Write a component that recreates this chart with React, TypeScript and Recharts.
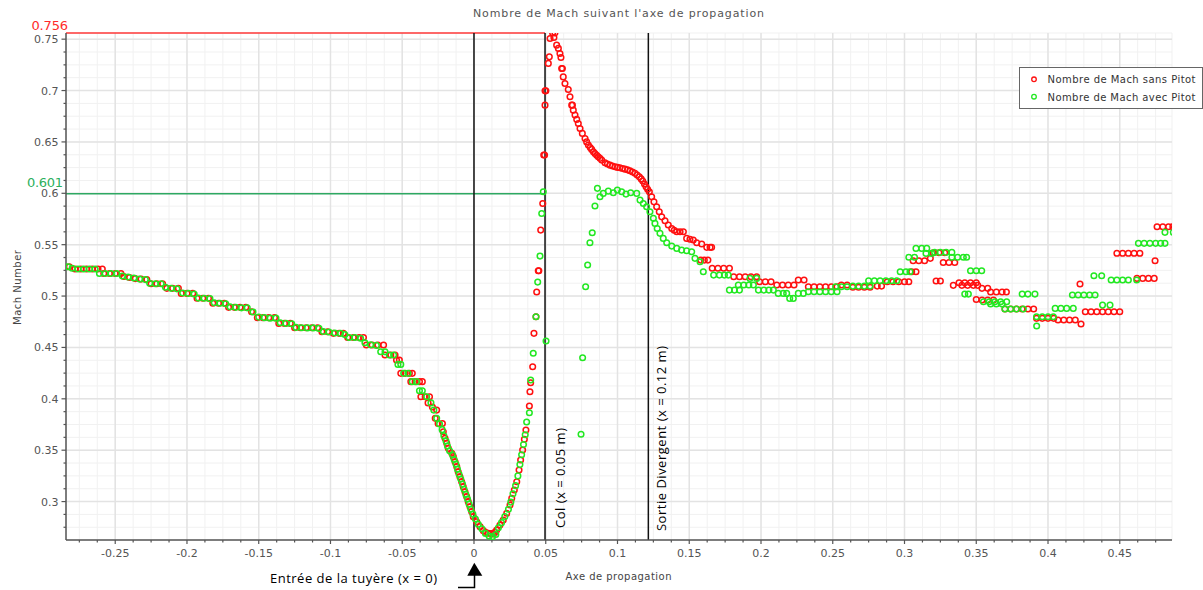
import { CartesianGrid, ReferenceLine, Scatter, ScatterChart, XAxis, YAxis } from "recharts";

// Nombre de Mach sans Pitot (x en m, Mach)
const sansPitot: [number, number][] = [
  [-0.286, 0.5285], [-0.282, 0.5285], [-0.278, 0.5263], [-0.274, 0.5263], [-0.27, 0.5263], [-0.266, 0.5263], [-0.262, 0.5263], [-0.259, 0.5263],
  [-0.258, 0.522], [-0.254, 0.522], [-0.25, 0.522], [-0.246, 0.522], [-0.244, 0.519], [-0.24, 0.518], [-0.236, 0.517], [-0.232, 0.5165], [-0.228, 0.516],
  [-0.225, 0.512], [-0.221, 0.512], [-0.217, 0.512], [-0.214, 0.5075], [-0.21, 0.5075], [-0.206, 0.5075],
  [-0.204, 0.5026], [-0.2, 0.5026], [-0.196, 0.5026], [-0.193, 0.4978], [-0.189, 0.4978], [-0.185, 0.4978],
  [-0.182, 0.493], [-0.178, 0.493], [-0.174, 0.493], [-0.171, 0.489], [-0.167, 0.489], [-0.163, 0.489], [-0.159, 0.489],
  [-0.155, 0.4847], [-0.151, 0.479], [-0.147, 0.479], [-0.143, 0.479], [-0.139, 0.479],
  [-0.136, 0.4734], [-0.132, 0.4734], [-0.128, 0.4734], [-0.125, 0.4692], [-0.121, 0.4692], [-0.117, 0.4692], [-0.113, 0.4692], [-0.109, 0.4692],
  [-0.106, 0.4653], [-0.102, 0.4653], [-0.098, 0.4637], [-0.094, 0.4637], [-0.091, 0.4637],
  [-0.088, 0.4596], [-0.084, 0.4596], [-0.08, 0.4596], [-0.077, 0.4596], [-0.075, 0.4523], [-0.071, 0.4523], [-0.067, 0.4523], [-0.063, 0.4523],
  [-0.062, 0.4426], [-0.058, 0.4426], [-0.055, 0.4426], [-0.054, 0.4377], [-0.052, 0.4377],
  [-0.051, 0.4248], [-0.048, 0.4248], [-0.045, 0.4248], [-0.043, 0.4248], [-0.044, 0.4167], [-0.041, 0.4167], [-0.038, 0.4167], [-0.036, 0.4167],
  [-0.037, 0.402], [-0.034, 0.402], [-0.031, 0.402], [-0.032, 0.396], [-0.029, 0.392], [-0.026, 0.389],
  [-0.027, 0.381], [-0.025, 0.376], [-0.022, 0.376], [-0.0214, 0.368], [-0.0202, 0.3616], [-0.019, 0.3567], [-0.0179, 0.3518], [-0.0155, 0.347],
  [-0.0144, 0.3437], [-0.0132, 0.3388], [-0.012, 0.334], [-0.011, 0.329], [-0.0098, 0.3242], [-0.0086, 0.3193], [-0.0075, 0.3145], [-0.0063, 0.3096],
  [-0.0051, 0.3048], [-0.004, 0.2999], [-0.0028, 0.295], [-0.0016, 0.2902], [-0.0005, 0.2853], [0.0019, 0.2804], [0.0042, 0.2756], [0.0065, 0.2717],
  [0.008, 0.27], [0.01, 0.2691], [0.012, 0.2688], [0.0134, 0.2685], [0.0145, 0.27], [0.0158, 0.2724], [0.0181, 0.2772], [0.0204, 0.2821],
  [0.0228, 0.2886], [0.0251, 0.2967], [0.0263, 0.3032], [0.0281, 0.3113], [0.0298, 0.3193], [0.0314, 0.3307], [0.0325, 0.3405], [0.0339, 0.3502],
  [0.0351, 0.3606], [0.0362, 0.3696], [0.0386, 0.393], [0.039, 0.4069], [0.0395, 0.4157], [0.0409, 0.4312], [0.0418, 0.4637], [0.0432, 0.4799],
  [0.0437, 0.5039], [0.0448, 0.5246], [0.0452, 0.5246], [0.0465, 0.5642], [0.0479, 0.5901], [0.0486, 0.6372], [0.0492, 0.6372], [0.0495, 0.6858],
  [0.0495, 0.6997], [0.0501, 0.6997], [0.0518, 0.7264], [0.0525, 0.7328], [0.053, 0.7507], [0.0548, 0.7561], [0.0557, 0.7516], [0.0564, 0.7561],
  [0.0576, 0.7442], [0.0588, 0.741], [0.0599, 0.7361], [0.0606, 0.7322], [0.0611, 0.7215], [0.0616, 0.7215], [0.0622, 0.7133], [0.0634, 0.7069],
  [0.0657, 0.701], [0.0669, 0.6939], [0.0681, 0.6858], [0.0686, 0.6858], [0.0692, 0.6809], [0.0704, 0.6761], [0.0716, 0.6719], [0.0727, 0.668],
  [0.0739, 0.6631], [0.0755, 0.6583], [0.0774, 0.6534], [0.0785, 0.65], [0.0797, 0.6469], [0.081, 0.6445], [0.082, 0.6427], [0.0832, 0.6405],
  [0.0843, 0.6388], [0.0855, 0.637], [0.0866, 0.6355], [0.0878, 0.634], [0.089, 0.6323], [0.0913, 0.6297], [0.093, 0.6285], [0.0948, 0.6274],
  [0.0965, 0.6265], [0.0983, 0.6258], [0.1, 0.6252], [0.1017, 0.6248], [0.1035, 0.6242], [0.1052, 0.6235], [0.107, 0.6228], [0.1087, 0.6219],
  [0.1105, 0.6208], [0.1122, 0.6194], [0.1137, 0.6178], [0.1152, 0.616], [0.1165, 0.614], [0.1176, 0.6119], [0.1188, 0.609], [0.1199, 0.6063],
  [0.121, 0.604], [0.1222, 0.6015], [0.1238, 0.5966], [0.1254, 0.5917], [0.1273, 0.5869], [0.1291, 0.582], [0.1308, 0.5771], [0.1331, 0.5733],
  [0.1354, 0.5691], [0.1378, 0.5658], [0.1395, 0.564], [0.1413, 0.5626], [0.1436, 0.5626], [0.1459, 0.5626], [0.1482, 0.5561], [0.1505, 0.5553],
  [0.1528, 0.5545], [0.1552, 0.5519], [0.1587, 0.5506], [0.1622, 0.5474], [0.1645, 0.5474], [0.1656, 0.5474], [0.158, 0.535], [0.1605, 0.535], [0.163, 0.535],
  [0.166, 0.527], [0.17, 0.527], [0.174, 0.527], [0.178, 0.527], [0.181, 0.5188], [0.185, 0.5188], [0.189, 0.5188], [0.193, 0.5188], [0.197, 0.5188],
  [0.199, 0.5139], [0.203, 0.5139], [0.207, 0.5139], [0.211, 0.5107], [0.215, 0.5107], [0.219, 0.5107], [0.223, 0.5107], [0.226, 0.5156], [0.23, 0.5156],
  [0.233, 0.509], [0.237, 0.509], [0.241, 0.509], [0.245, 0.509], [0.249, 0.509], [0.253, 0.509], [0.256, 0.5107], [0.26, 0.5107],
  [0.264, 0.5085], [0.268, 0.5085], [0.272, 0.5085], [0.276, 0.5085], [0.281, 0.5097], [0.284, 0.5097], [0.288, 0.5139], [0.292, 0.5139],
  [0.296, 0.5139], [0.3, 0.5139], [0.303, 0.5139], [0.305, 0.5236], [0.308, 0.5236], [0.306, 0.5343], [0.31, 0.5343], [0.314, 0.5343], [0.318, 0.5367],
  [0.32, 0.5422], [0.324, 0.5422], [0.328, 0.5422], [0.322, 0.5146], [0.325, 0.5146], [0.327, 0.5327], [0.331, 0.5327], [0.335, 0.5327],
  [0.334, 0.5104], [0.338, 0.513], [0.342, 0.513], [0.346, 0.513], [0.35, 0.513], [0.34, 0.5104], [0.344, 0.5104], [0.348, 0.5104], [0.351, 0.5104],
  [0.354, 0.5075], [0.358, 0.5075], [0.35, 0.4967], [0.354, 0.4961], [0.358, 0.4961], [0.362, 0.4961], [0.36, 0.5039], [0.364, 0.5039], [0.368, 0.5039], [0.371, 0.5039],
  [0.37, 0.4874], [0.374, 0.4874], [0.378, 0.4874], [0.382, 0.4874], [0.386, 0.4874], [0.39, 0.4874], [0.392, 0.4783], [0.396, 0.4783], [0.4, 0.4783], [0.404, 0.4783],
  [0.407, 0.4767], [0.411, 0.4767], [0.415, 0.4767], [0.419, 0.4767], [0.423, 0.4728], [0.4223, 0.5117],
  [0.426, 0.4847], [0.43, 0.4847], [0.434, 0.4847], [0.438, 0.4847], [0.442, 0.4847], [0.446, 0.4847], [0.45, 0.4847],
  [0.448, 0.5416], [0.452, 0.5416], [0.456, 0.5416], [0.46, 0.5416], [0.464, 0.5416], [0.462, 0.5172], [0.466, 0.5172], [0.47, 0.5172], [0.474, 0.5172],
  [0.4746, 0.5343], [0.476, 0.5674], [0.48, 0.5674], [0.484, 0.5674], [0.487, 0.5674],
];

// Nombre de Mach avec Pitot
const avecPitot: [number, number][] = [
  [-0.286, 0.5285], [-0.283, 0.5285], [-0.28, 0.527], [-0.276, 0.5263], [-0.272, 0.5263], [-0.268, 0.5263], [-0.264, 0.5263],
  [-0.261, 0.522], [-0.257, 0.522], [-0.253, 0.522], [-0.249, 0.522], [-0.245, 0.5195], [-0.241, 0.5185], [-0.237, 0.5175], [-0.233, 0.5165], [-0.229, 0.516],
  [-0.226, 0.5125], [-0.222, 0.512], [-0.218, 0.512], [-0.215, 0.5085], [-0.211, 0.5075], [-0.207, 0.507], [-0.203, 0.503], [-0.199, 0.5026], [-0.195, 0.502],
  [-0.192, 0.498], [-0.188, 0.4978], [-0.184, 0.4975], [-0.181, 0.4935], [-0.177, 0.493], [-0.173, 0.4925], [-0.17, 0.4895], [-0.166, 0.489], [-0.162, 0.4885],
  [-0.158, 0.4885], [-0.154, 0.4845], [-0.15, 0.4795], [-0.146, 0.479], [-0.142, 0.4785], [-0.138, 0.4785], [-0.135, 0.474], [-0.131, 0.4734], [-0.127, 0.473],
  [-0.124, 0.4695], [-0.12, 0.4692], [-0.116, 0.469], [-0.112, 0.469], [-0.108, 0.4685], [-0.105, 0.4655], [-0.101, 0.465], [-0.097, 0.464], [-0.093, 0.4637],
  [-0.09, 0.4625], [-0.087, 0.4596], [-0.083, 0.4596], [-0.079, 0.459], [-0.076, 0.4545], [-0.072, 0.4525], [-0.068, 0.452], [-0.065, 0.4458], [-0.062, 0.4458],
  [-0.059, 0.4426], [-0.056, 0.4426], [-0.053, 0.4335], [-0.051, 0.4335], [-0.049, 0.4248], [-0.046, 0.4248], [-0.043, 0.4167], [-0.04, 0.4167],
  [-0.038, 0.4079], [-0.036, 0.4079], [-0.033, 0.402], [-0.03, 0.396], [-0.028, 0.389], [-0.026, 0.381], [-0.024, 0.3755], [-0.0222, 0.37], [-0.021, 0.364],
  [-0.0195, 0.359], [-0.0185, 0.354], [-0.017, 0.3495], [-0.015, 0.3455], [-0.0138, 0.341], [-0.0126, 0.3365], [-0.0115, 0.3315], [-0.0104, 0.3265],
  [-0.0092, 0.322], [-0.008, 0.317], [-0.0069, 0.312], [-0.0057, 0.307], [-0.0045, 0.3025], [-0.0034, 0.2975], [-0.0022, 0.2925], [-0.0008, 0.2878],
  [0.001, 0.283], [0.003, 0.278], [0.0055, 0.2735], [0.008, 0.269], [0.0105, 0.2665], [0.013, 0.2659], [0.0152, 0.268], [0.017, 0.2745], [0.0192, 0.2795],
  [0.0215, 0.2855], [0.024, 0.2925], [0.0257, 0.2995], [0.0272, 0.3075], [0.029, 0.3155], [0.0306, 0.325], [0.032, 0.336], [0.0332, 0.3455], [0.0345, 0.3555],
  [0.0357, 0.365], [0.0367, 0.3775], [0.0386, 0.3865], [0.0395, 0.4183], [0.0413, 0.4443], [0.0432, 0.4799], [0.0444, 0.5136], [0.046, 0.5389],
  [0.0472, 0.5804], [0.0483, 0.6015], [0.0502, 0.4562],
  [0.0746, 0.3655], [0.0757, 0.44], [0.0778, 0.509], [0.0792, 0.5302], [0.0808, 0.5519], [0.0824, 0.5616], [0.0843, 0.5876], [0.086, 0.6048],
  [0.0878, 0.5966], [0.0901, 0.5999], [0.0936, 0.6021], [0.0971, 0.6005], [0.0999, 0.6031], [0.1029, 0.6015], [0.1059, 0.5992], [0.1092, 0.6005],
  [0.1134, 0.5999], [0.1157, 0.5934], [0.118, 0.5901], [0.1203, 0.5869], [0.1226, 0.582], [0.125, 0.5756], [0.1261, 0.5707], [0.1277, 0.5658],
  [0.1296, 0.561], [0.1319, 0.5561], [0.1343, 0.5519], [0.1378, 0.5486], [0.1413, 0.5464], [0.1447, 0.5447], [0.1482, 0.5441], [0.1517, 0.5431],
  [0.154, 0.5367], [0.1575, 0.5334], [0.1598, 0.5236], [0.167, 0.5204], [0.171, 0.5204], [0.1745, 0.5204], [0.1772, 0.5204],
  [0.178, 0.5058], [0.1815, 0.5058], [0.185, 0.5058], [0.1842, 0.5107], [0.188, 0.5107], [0.1915, 0.5107], [0.1947, 0.5107], [0.1923, 0.5172], [0.197, 0.5172],
  [0.1982, 0.5058], [0.202, 0.5058], [0.2055, 0.5058], [0.2086, 0.5058], [0.212, 0.5026], [0.2155, 0.5026], [0.2179, 0.5026], [0.22, 0.4977], [0.2225, 0.4977],
  [0.226, 0.5026], [0.2295, 0.5026], [0.233, 0.5042], [0.237, 0.5042], [0.241, 0.5042], [0.245, 0.5042], [0.249, 0.5042], [0.253, 0.5042],
  [0.252, 0.509], [0.256, 0.509], [0.26, 0.509], [0.264, 0.5097], [0.268, 0.5097], [0.272, 0.5097], [0.276, 0.5097],
  [0.275, 0.5149], [0.279, 0.5149], [0.283, 0.5149], [0.287, 0.5149], [0.291, 0.5149], [0.2946, 0.5149], [0.297, 0.5236], [0.301, 0.5236], [0.3038, 0.5236],
  [0.303, 0.5377], [0.307, 0.5377], [0.308, 0.5464], [0.312, 0.5464], [0.3155, 0.5464], [0.315, 0.5415], [0.319, 0.5415],
  [0.321, 0.5425], [0.325, 0.5425], [0.329, 0.5425], [0.333, 0.5425], [0.333, 0.5377], [0.337, 0.5377], [0.341, 0.5377], [0.3433, 0.5377],
  [0.342, 0.5019], [0.3445, 0.5019], [0.346, 0.5246], [0.35, 0.5246], [0.3538, 0.5246],
  [0.355, 0.4944], [0.359, 0.4944], [0.363, 0.4944], [0.367, 0.4944], [0.3712, 0.4944], [0.36, 0.4922], [0.364, 0.4922], [0.368, 0.4922],
  [0.37, 0.4874], [0.374, 0.4874], [0.378, 0.4874], [0.3828, 0.4874], [0.382, 0.5019], [0.386, 0.5019], [0.3909, 0.5019],
  [0.392, 0.4799], [0.396, 0.4799], [0.4, 0.4799], [0.4037, 0.4799], [0.3921, 0.4708], [0.405, 0.488], [0.409, 0.488], [0.413, 0.488], [0.4176, 0.488],
  [0.417, 0.501], [0.421, 0.501], [0.425, 0.501], [0.429, 0.501], [0.4328, 0.501], [0.432, 0.5198], [0.4374, 0.5198], [0.438, 0.4912], [0.4432, 0.4912],
  [0.444, 0.5156], [0.448, 0.5156], [0.452, 0.5156], [0.456, 0.5156], [0.4618, 0.5156],
  [0.463, 0.5513], [0.467, 0.5513], [0.471, 0.5513], [0.475, 0.5513], [0.4785, 0.5513], [0.4815, 0.5513], [0.4815, 0.562], [0.4873, 0.562],
];

const xMajor = [-0.25, -0.2, -0.15, -0.1, -0.05, 0, 0.05, 0.1, 0.15, 0.2, 0.25, 0.3, 0.35, 0.4, 0.45];
const yMajor = [0.3, 0.35, 0.4, 0.45, 0.5, 0.55, 0.6, 0.65, 0.7, 0.75];
const xTicks = Array.from({ length: 61 }, (_, i) => +(-0.275 + i * 0.0125).toFixed(4));
const yTicks = Array.from({ length: 39 }, (_, i) => +(0.275 + i * 0.0125).toFixed(4));

const X_MIN = -0.2843;
const X_MAX = 0.4864;
const Y_MIN = 0.2626;
const Y_MAX = 0.756;

const RED = "#ff1010";
const GREEN = "#22e822";
const FONT = "DejaVu Sans";

const isMajor = (v: number) => Math.abs(v / 0.05 - Math.round(v / 0.05)) < 1e-6;
const fmt = (v: number) => String(+v.toFixed(3));

function XTick(props: any) {
  const { x, y, payload } = props;
  const major = isMajor(payload.value);
  return (
    <g>
      <line x1={x} x2={x} y1={y} y2={y + (major ? 4 : 2.5)} stroke="#555" strokeWidth={1.2} />
      {major && (
        <text x={x} y={y + 16.5} textAnchor="middle" fontSize={11} fontFamily={FONT} fill="#555">
          {fmt(payload.value)}
        </text>
      )}
    </g>
  );
}

function YTick(props: any) {
  const { x, y, payload } = props;
  const major = isMajor(payload.value);
  return (
    <g>
      <line x1={x - (major ? 4.5 : 2.5)} x2={x} y1={y} y2={y} stroke="#555" strokeWidth={1.2} />
      {major && (
        <text x={x - 7.5} y={y + 4} textAnchor="end" fontSize={11} fontFamily={FONT} fill="#555">
          {fmt(payload.value)}
        </text>
      )}
    </g>
  );
}

const ring = (color: string) => (p: any) => (
  <circle cx={p.cx} cy={p.cy} r={2.8} fill="none" stroke={color} strokeWidth={1.5} />
);

export default function App() {
  const red = sansPitot.map(([x, y]) => ({ x, y }));
  const green = avecPitot.map(([x, y]) => ({ x, y }));
  return (
    <div style={{ position: "absolute", left: 0, top: 0, width: 1203, height: 590, background: "#fff" }}>
      <ScatterChart width={1203} height={590} margin={{ top: 33, right: 31, bottom: 20, left: 0 }}>
        <CartesianGrid stroke="#f1f1f1" strokeWidth={1} />
        <CartesianGrid stroke="#e3e3e3" strokeWidth={1.5} verticalValues={xMajor} horizontalValues={yMajor} />
        <XAxis
          type="number"
          dataKey="x"
          domain={[X_MIN, X_MAX]}
          allowDataOverflow
          ticks={xTicks}
          interval={0}
          tick={<XTick />}
          tickLine={false}
          tickSize={0}
          tickMargin={0}
          height={30}
          axisLine={{ stroke: "#555", strokeWidth: 1.5 }}
        />
        <YAxis
          type="number"
          dataKey="y"
          domain={[Y_MIN, Y_MAX]}
          allowDataOverflow
          ticks={yTicks}
          interval={0}
          tick={<YTick />}
          tickLine={false}
          tickSize={0}
          tickMargin={0}
          width={66}
          axisLine={{ stroke: "#555", strokeWidth: 1.5 }}
        />
        <ReferenceLine segment={[{ x: X_MIN, y: 0.756 }, { x: 0.0495, y: 0.756 }]} stroke="#ff3838" strokeWidth={1.5} ifOverflow="visible" />
        <ReferenceLine segment={[{ x: X_MIN, y: 0.5995 }, { x: 0.0495, y: 0.5995 }]} stroke="#2ea862" strokeWidth={1.5} />
        <ReferenceLine x={0} stroke="#111" strokeWidth={1.5} />
        <ReferenceLine x={0.0495} stroke="#111" strokeWidth={1.5} />
        <ReferenceLine x={0.1215} stroke="#111" strokeWidth={1.5} />
        <Scatter name="Nombre de Mach sans Pitot" data={red} shape={ring(RED)} isAnimationActive={false} />
        <Scatter name="Nombre de Mach avec Pitot" data={green} shape={ring(GREEN)} isAnimationActive={false} />
      </ScatterChart>
      <svg width={1203} height={590} style={{ position: "absolute", left: 0, top: 0, pointerEvents: "none" }}>
        <text x={618.5} y={17} textAnchor="middle" fontSize={11} fontFamily={FONT} fill="#555" textLength={291}>
          Nombre de Mach suivant l'axe de propagation
        </text>
        <text x={31.5} y={30} fontSize={13} fontFamily={FONT} fill="#ff2a2a" textLength={36.5}>0.756</text>
        <text x={27} y={186.5} fontSize={13} fontFamily={FONT} fill="#2cb05c" textLength={36}>0.601</text>
        <text x={618.5} y={580} textAnchor="middle" fontSize={10} fontFamily={FONT} fill="#444" textLength={106}>
          Axe de propagation
        </text>
        <text transform="translate(20.5,287.5) rotate(-90)" textAnchor="middle" fontSize={10} fontFamily={FONT} fill="#444" textLength={75}>
          Mach Number
        </text>
        <text transform="translate(564.5,528) rotate(-90)" fontSize={13} fontFamily="Open Sans" fill="#000" textLength={100}>
          Col (x = 0.05 m)
        </text>
        <text transform="translate(665.5,531) rotate(-90)" fontSize={13} fontFamily="Open Sans" fill="#000" textLength={185}>
          Sortie Divergent (x = 0.12 m)
        </text>
        <text x={270} y={583} fontSize={13} fontFamily="Open Sans" fill="#000" textLength={167}>
          Entrée de la tuyère (x = 0)
        </text>
        <polygon points="474.3,562.7 467.3,575.7 482.3,575.7" fill="#000" />
        <polyline points="474.5,575 474.5,587.5 458,587.5" fill="none" stroke="#000" strokeWidth={1.5} />
        <rect x={1019.5} y={67.5} width={183} height={41} fill="#fff" stroke="#666" strokeWidth={1} />
        <circle cx={1034} cy={79.3} r={2.3} fill="none" stroke={RED} strokeWidth={1.3} />
        <circle cx={1034} cy={96.7} r={2.3} fill="none" stroke={GREEN} strokeWidth={1.3} />
        <text x={1047.5} y={83} fontSize={10} fontFamily={FONT} fill="#333" textLength={148}>Nombre de Mach sans Pitot</text>
        <text x={1047.5} y={100.5} fontSize={10} fontFamily={FONT} fill="#333" textLength={148}>Nombre de Mach avec Pitot</text>
      </svg>
    </div>
  );
}
